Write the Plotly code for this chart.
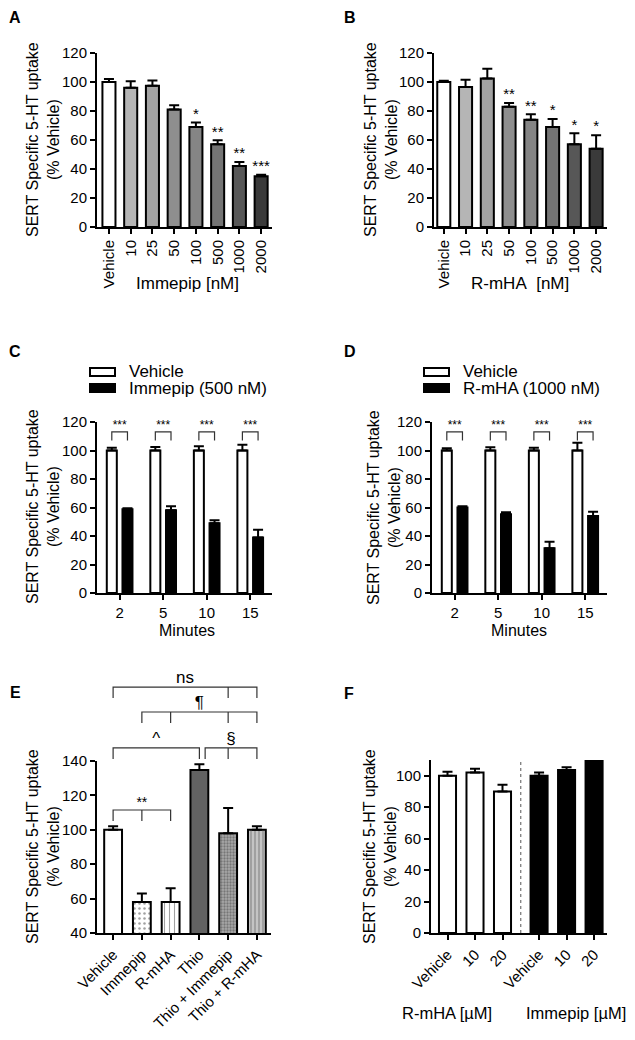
import plotly.graph_objects as go

# the page body keeps its default 8px margin, so the figure is drawn 8px in from the corner
OFF = 8
W, H = 635 - OFF, 1040 - OFF
FONT = "Arial, Liberation Sans, sans-serif"
TICK_SIZE = 15
TITLE_SIZE = 16

# ---------------- data ----------------
A_LABELS = ["Vehicle", "10", "25", "50", "100", "500", "1000", "2000"]
A_MEAN = [100, 96, 97.5, 81, 69, 57, 42, 35]
A_SEM = [2, 4.5, 3.5, 3, 3, 2.8, 2.8, 1]
A_SIG = ["", "", "", "", "*", "**", "**", "***"]

B_LABELS = ["Vehicle", "10", "25", "50", "100", "500", "1000", "2000"]
B_MEAN = [100, 96.5, 102.5, 83, 74, 69, 57, 54]
B_SEM = [0.8, 5, 6.7, 2.5, 3.7, 5.5, 7.6, 9.3]
B_SIG = ["", "", "", "**", "**", "*", "*", "*"]

TIME_LABELS = ["2", "5", "10", "15"]
C_VEH_MEAN = [100, 100, 100, 100]
C_VEH_SEM = [2, 2.5, 3, 4]
C_IMM_MEAN = [58.7, 58, 49, 39]
C_IMM_SEM = [0.7, 2.8, 2, 5.3]
C_SIG = ["***", "***", "***", "***"]

D_VEH_MEAN = [100, 100, 100, 100]
D_VEH_SEM = [1.5, 2.2, 2, 5.5]
D_RMHA_MEAN = [60, 55.2, 31.4, 54]
D_RMHA_SEM = [0.8, 1.5, 4.6, 3]
D_SIG = ["***", "***", "***", "***"]

E_LABELS = ["Vehicle", "Immepip", "R-mHA", "Thio", "Thio + Immepip", "Thio + R-mHA"]
E_MEAN = [100, 58, 58, 134.8, 98, 100]
E_SEM = [2, 5, 8, 3.3, 14.7, 2]
# (label, compared bar indices, bracket level)
E_BRACKETS = [
    ("ns", [0, 4, 5], 183),
    ("\u00b6", [1, 2, 4, 5], 168.5),
    ("^", [0, 3], 147.6),
    ("\u00a7", [3.2, 4, 5], 147.6),
    ("**", [0, 1, 2], 111.5),
]

F_LABELS = ["Vehicle", "10", "20"]
F_RMHA_MEAN = [100, 102, 90]
F_RMHA_SEM = [2.5, 2.5, 4.3]
F_IMM_MEAN = [100, 103.7, 115]
F_IMM_SEM = [2, 1.7, 0]

YTITLE = "SERT Specific 5-HT uptake<br>(% Vehicle)"

fig = go.Figure()


def xp(p):
    return (p - OFF) / W


def yp(p):
    return 1 - (p - OFF) / H


def names(n):
    s = "" if n == 1 else str(n)
    return "xaxis" + s, "yaxis" + s, "x" + s, "y" + s


def add_axes(n, xpx, ypx, xrange, yrange, tickvals, ticktext, tickangle, ytickvals):
    xa, ya, xr, yr = names(n)
    common = dict(showline=True, linecolor="black", linewidth=2, ticks="outside",
                  tickcolor="black", tickwidth=2, ticklen=5, showgrid=False,
                  zeroline=False, automargin=False,
                  tickfont=dict(size=TICK_SIZE, color="black", family=FONT))
    fig.update_layout({
        xa: dict(domain=[xp(xpx[0]), xp(xpx[1])], range=xrange, anchor=yr,
                 tickmode="array", tickvals=tickvals, ticktext=ticktext,
                 tickangle=tickangle, **common),
        ya: dict(domain=[yp(ypx[1]), yp(ypx[0])], range=yrange, anchor=xr,
                 tickmode="array", tickvals=ytickvals, **common),
    })
    return xr, yr


def bars(xr, yr, x, mean, sem, fill, width, pattern=None):
    marker = dict(color=fill, line=dict(color="black", width=2))
    if pattern:
        marker["pattern"] = pattern
    fig.add_trace(go.Bar(
        x=x, y=mean, width=width, marker=marker,
        error_y=dict(type="data", array=sem, arrayminus=[0] * len(sem), symmetric=False,
                     color="black", thickness=2, width=5),
        xaxis=xr, yaxis=yr, showlegend=False, hoverinfo="skip"))


def sig_text(xr, yr, x, y, labels, size):
    fig.add_trace(go.Scatter(
        x=x, y=y, text=labels, mode="text", textposition="top center",
        textfont=dict(size=size, color="black", family=FONT), cliponaxis=False,
        xaxis=xr, yaxis=yr, showlegend=False, hoverinfo="skip"))


def bracket(xr, yr, legs, level, drop, label, size):
    xs = [legs[0], legs[0], legs[-1], legs[-1], None]
    ys = [level - drop, level, level, level - drop, None]
    for m in legs[1:-1]:
        xs += [m, m, None]
        ys += [level, level - drop, None]
    fig.add_trace(go.Scatter(x=xs, y=ys, mode="lines", line=dict(color="#333333", width=1.2),
                             xaxis=xr, yaxis=yr, showlegend=False, hoverinfo="skip"))
    sig_text(xr, yr, [(legs[0] + legs[-1]) / 2], [level], [label], size)


def note(text, x, y, size=TITLE_SIZE, bold=False, angle=0, xanchor="center"):
    fig.add_annotation(text="<b>%s</b>" % text if bold else text, x=xp(x), y=yp(y),
                       xref="paper", yref="paper", showarrow=False, textangle=angle,
                       xanchor=xanchor, yanchor="middle", borderpad=0,
                       font=dict(size=size, color="black", family=FONT))


# ---------------- A ----------------
A_COLORS = ["white", "#b5b5b5", "#a3a3a3", "#8e8e8e", "#858585", "#747474", "#575757", "#3a3a3a"]
ax = list(range(len(A_MEAN)))
xr, yr = add_axes(1, (97, 272), (53, 227), [-0.55, 7.5], [0, 120], ax, A_LABELS, -90,
                  list(range(0, 121, 20)))
bars(xr, yr, ax, A_MEAN, A_SEM, A_COLORS, 0.6)
sig_text(xr, yr, ax, [m + s for m, s in zip(A_MEAN, A_SEM)], A_SIG, 15)

# ---------------- B ----------------
bx = list(range(len(B_MEAN)))
xr, yr = add_axes(2, (434, 607), (53, 227), [-0.45, 7.5], [0, 120], bx, B_LABELS, -90,
                  list(range(0, 121, 20)))
bars(xr, yr, bx, B_MEAN, B_SEM, A_COLORS, 0.6)
sig_text(xr, yr, bx, [m + s for m, s in zip(B_MEAN, B_SEM)], B_SIG, 15)

# ---------------- C / D ----------------
SHIFT = 0.18
for n, xpx, veh_m, veh_s, trt_m, trt_s, sig in [
        (3, (97, 272), C_VEH_MEAN, C_VEH_SEM, C_IMM_MEAN, C_IMM_SEM, C_SIG),
        (4, (432, 607), D_VEH_MEAN, D_VEH_SEM, D_RMHA_MEAN, D_RMHA_SEM, D_SIG)]:
    gx = list(range(len(TIME_LABELS)))
    xr, yr = add_axes(n, xpx, (422, 593), [-0.52, 3.5], [0, 120], gx, TIME_LABELS, 0,
                      list(range(0, 121, 20)))
    bars(xr, yr, [g - SHIFT for g in gx], veh_m, veh_s, "white", 0.23)
    bars(xr, yr, [g + SHIFT for g in gx], trt_m, trt_s, "black", 0.23)
    for g, s in zip(gx, sig):
        bracket(xr, yr, [g - SHIFT, g + SHIFT], 113, 6, s, 12)

# ---------------- E ----------------
ex = list(range(len(E_MEAN)))
xr, yr = add_axes(5, (97, 271), (761, 933), [-0.56, 5.49], [40, 140], ex, E_LABELS, -45,
                  list(range(40, 141, 20)))
bars(xr, yr, ex, E_MEAN, E_SEM, ["white", "white", "white", "#626262", "#a8a8a8", "#c4c4c4"], 0.62,
     pattern=dict(shape=["", ".", "|", "", ".", "|"],
                  fgcolor=["black", "#333333", "black", "black", "#3a3a3a", "black"],
                  bgcolor=["white", "white", "white", "#626262", "#b0b0b0", "#c8c8c8"],
                  size=[6, 5, 5, 6, 3, 4], solidity=[0.2, 0.2, 0.22, 0.2, 0.45, 0.28],
                  fillmode="overlay"))
# invisible axis sharing E's scale, taller, so brackets above the plot are not clipped
ppu = (933 - 761) / 100.0
top_px = 655
fig.update_layout(yaxis7=dict(domain=[yp(933), yp(top_px)], range=[40, 40 + (933 - top_px) / ppu],
                              anchor="x5", visible=False, showgrid=False, zeroline=False))
for label, legs, level in E_BRACKETS:
    bracket("x5", "y7", legs, level, 6.4, label, 17 if label != "**" else 14)

# ---------------- F ----------------
F_GROUP_SHIFT = 3.33
fx1 = list(range(len(F_LABELS)))
fx2 = [i + F_GROUP_SHIFT for i in fx1]
xr, yr = add_axes(6, (431, 607), (760, 933), [-0.6, 5.8], [0, 110], fx1 + fx2,
                  F_LABELS + F_LABELS, -45, list(range(0, 101, 20)))
bars(xr, yr, fx1, F_RMHA_MEAN, F_RMHA_SEM, "white", 0.62)
bars(xr, yr, fx2, F_IMM_MEAN, F_IMM_SEM, "black", 0.62)
fig.add_shape(type="line", xref=xr, yref=yr + " domain", x0=(fx1[-1] + fx2[0]) / 2,
              x1=(fx1[-1] + fx2[0]) / 2, y0=0, y1=1, line=dict(color="#555555", width=1, dash="dot"))

# ---------------- legends C / D ----------------
for bx0, tx, label in [(90, 128, "Immepip (500 nM)"), (424, 462, "R-mHA (1000 nM)")]:
    fig.add_shape(type="rect", xref="paper", yref="paper", x0=xp(bx0), x1=xp(bx0 + 25),
                  y0=yp(376), y1=yp(368), fillcolor="white", line=dict(color="black", width=2))
    fig.add_shape(type="rect", xref="paper", yref="paper", x0=xp(bx0), x1=xp(bx0 + 25),
                  y0=yp(392), y1=yp(384), fillcolor="black", line=dict(color="black", width=2))
    note("Vehicle", tx, 372, size=17, xanchor="left")
    note(label, tx, 388, size=17, xanchor="left")

# ---------------- titles and letters ----------------
for x, y in [(43, 140), (381, 140), (43, 507), (384, 507), (43, 847), (380, 847)]:
    note(YTITLE, x, y, angle=-90)
note("Immepip [nM]", 187, 283, size=17)
note("R-mHA\u00a0 [nM]", 520, 283, size=17)
note("Minutes", 187, 630)
note("Minutes", 519, 630)
note("R-mHA [\u00b5M]", 447, 1013, size=16.5)
note("Immepip [\u00b5M]", 576, 1013, size=16.5)
for letter, x, y in [("A", 15, 17), ("B", 350, 17), ("C", 15, 352), ("D", 350, 352),
                     ("E", 15, 692), ("F", 349, 693)]:
    note(letter, x, y, size=16, bold=True)

fig.update_layout(width=W, height=H,
                  margin=dict(l=0, r=0, t=0, b=0, pad=0, autoexpand=False),
                  paper_bgcolor="white", plot_bgcolor="rgba(0,0,0,0)", barmode="overlay",
                  font=dict(family=FONT, color="black"), showlegend=False)

fig.write_html("out.html")
